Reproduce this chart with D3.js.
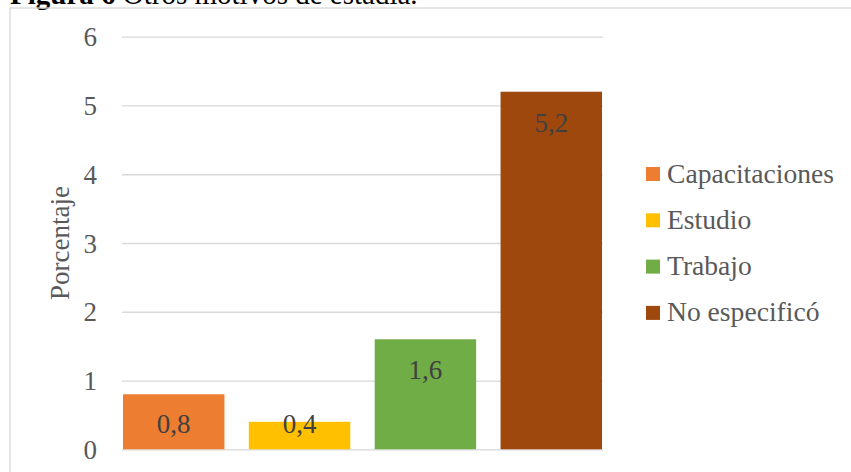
<!DOCTYPE html>
<html>
<head>
<meta charset="utf-8">
<script src="https://cdn.jsdelivr.net/npm/d3@7"></script>
<style>
  html, body { margin: 0; padding: 0; background: #fff; overflow: hidden; }
  svg { display: block; }
  text { font-family: "Liberation Serif", "Times New Roman", serif; }
</style>
</head>
<body>
<script>
// Otros motivos de estadía (porcentaje)
const categories = ["Capacitaciones", "Estudio", "Trabajo", "No especificó"];
const values = [0.8, 0.4, 1.6, 5.2];
const valueLabels = ["0,8", "0,4", "1,6", "5,2"];
const colors = ["#ED7D31", "#FFC000", "#70AD47", "#9E480E"];
const yTicks = [0, 1, 2, 3, 4, 5, 6];

const W = 851, H = 472;
const svg = d3.select("body").append("svg").attr("width", W).attr("height", H);

// Caption above the chart frame
const cap = svg.append("text").attr("x", 10).attr("y", 4)
  .attr("font-size", 29).attr("fill", "#000");
cap.append("tspan").attr("font-weight", "bold").text("Figura 6 ");
cap.append("tspan").text("Otros motivos de estadía.");

// Chart frame
svg.append("rect").attr("x", 10).attr("y", 8)
  .attr("width", 900).attr("height", 500)
  .attr("fill", "none").attr("stroke", "#d9d9d9").attr("stroke-width", 1.3);

const plot = { left: 122, right: 603, top: 36.7, bottom: 449.3 };

const x = d3.scaleBand().domain(categories)
  .range([plot.left, plot.right])
  .paddingInner(0.194).paddingOuter(0.008);
const y = d3.scaleLinear().domain([0, 6]).range([plot.bottom, plot.top]);

// Gridlines and tick labels
const yAxis = d3.axisLeft(y).tickValues(yTicks).tickFormat(d3.format("d"))
  .tickSize(-(plot.right - plot.left)).tickPadding(25);
const gy = svg.append("g").attr("transform", `translate(${plot.left},0)`).call(yAxis);
gy.select(".domain").remove();
gy.selectAll(".tick line").attr("stroke", "#d9d9d9").attr("stroke-width", 1.3);
gy.selectAll(".tick text").attr("fill", "#595959").attr("font-size", 27)
  .attr("font-family", "Liberation Serif, Times New Roman, serif")
  .attr("dy", "0.34em");

// Bars
svg.append("g").selectAll("rect").data(categories).join("rect")
  .attr("x", d => x(d))
  .attr("y", (d, i) => y(values[i]))
  .attr("width", x.bandwidth())
  .attr("height", (d, i) => y(0) - y(values[i]))
  .attr("fill", (d, i) => colors[i]);

// Value labels inside the bar ends
svg.append("g").selectAll("text").data(categories).join("text")
  .attr("x", d => x(d) + x.bandwidth() / 2)
  .attr("y", (d, i) => Math.min(y(values[i]) + 40, y(0) - 16.5))
  .attr("text-anchor", "middle")
  .attr("font-size", 27).attr("fill", "#404040")
  .text((d, i) => valueLabels[i]);

// Axis title
svg.append("text")
  .attr("transform", `translate(69,${(plot.top + plot.bottom) / 2}) rotate(-90)`)
  .attr("text-anchor", "middle").attr("font-size", 27).attr("fill", "#595959")
  .text("Porcentaje");

// Legend
const legend = svg.append("g").selectAll("g").data(categories).join("g")
  .attr("transform", (d, i) => `translate(646,${174 + i * 46.3})`);
legend.append("rect").attr("x", 0).attr("y", -7).attr("width", 14).attr("height", 14)
  .attr("fill", (d, i) => colors[i]);
legend.append("text").attr("x", 21).attr("y", 8.5)
  .attr("font-size", 27.6).attr("fill", "#595959").text(d => d);
</script>
</body>
</html>
